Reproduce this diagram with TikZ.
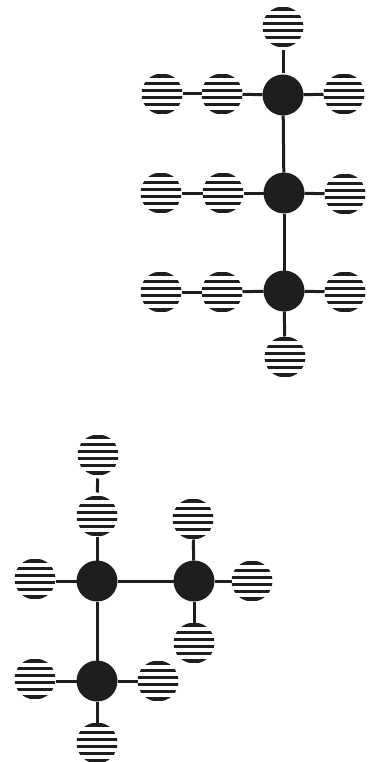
\documentclass[tikz,border=0pt]{standalone}
\definecolor{ink}{HTML}{1E1E1E}
\tikzset{
  hatom/.style={circle,minimum size=41pt,inner sep=0pt,outer sep=0pt,fill=white,
    path picture={
      \foreach \o in {-17.7,-10.6,-3.55,3.55,10.6,17.7}
        \draw[ink,line width=3.7pt] (path picture bounding box.west) ++(-2pt,\o pt) -- ++(45pt,0pt);
    }},
  catom/.style={circle,minimum size=41pt,inner sep=0pt,outer sep=0pt,fill=ink},
  bond/.style={ink,line width=3pt},
  gapbond/.style={bond,shorten <=3pt,shorten >=1pt}
}
\begin{document}
\begin{tikzpicture}[x=1pt,y=-1pt]
\useasboundingbox (0,0) rectangle (373,762);
% upper molecule
\node[catom] (c1) at (283,95) {};
\node[catom] (c2) at (284,193) {};
\node[catom] (c3) at (284,291) {};
\node[hatom] (t) at (283,27) {};
\node[hatom] (a1) at (162,94) {};
\node[hatom] (a2) at (222,94) {};
\node[hatom] (a3) at (344,94) {};
\node[hatom] (b1) at (161,193) {};
\node[hatom] (b2) at (223,193) {};
\node[hatom] (b3) at (345,194) {};
\node[hatom] (d1) at (161,292) {};
\node[hatom] (d2) at (222,292) {};
\node[hatom] (d3) at (345,292) {};
\node[hatom] (e) at (285,357) {};
% lower molecule
\node[catom] (p) at (97,581) {};
\node[catom] (q) at (194,581) {};
\node[catom] (r) at (97,681) {};
\node[hatom] (u1) at (98,455) {};
\node[hatom] (u2) at (97,516) {};
\node[hatom] (u3) at (193,519) {};
\node[hatom] (l1) at (35,579) {};
\node[hatom] (g1) at (252,581) {};
\node[hatom] (g2) at (194,643) {};
\node[hatom] (l2) at (35,679) {};
\node[hatom] (g3) at (158,681) {};
\node[hatom] (g4) at (97,743) {};
% bonds
\draw[gapbond] (t) -- (c1);
\draw[bond] (a1) -- (a2);
\draw[bond] (a2) -- (c1);
\draw[bond] (c1) -- (a3);
\draw[bond] (c1) -- (c2);
\draw[bond] (b1) -- (b2);
\draw[bond] (b2) -- (c2);
\draw[bond] (c2) -- (b3);
\draw[bond] (c2) -- (c3);
\draw[bond] (d1) -- (d2);
\draw[bond] (d2) -- (c3);
\draw[bond] (c3) -- (d3);
\draw[bond] (c3) -- (e);
\draw[bond,shorten <=3pt,shorten >=3pt] (u1) -- (u2);
\draw[bond] (u2) -- (p);
\draw[bond] (u3) -- (q);
\draw[bond] (l1.east |- p) -- (p);
\draw[bond] (p) -- (q);
\draw[bond] (q) -- (g1);
\draw[bond] (q) -- (g2);
\draw[bond] (p) -- (r);
\draw[bond] (l2.east |- r) -- (r);
\draw[bond] (r) -- (g3);
\draw[bond] (r) -- (g4);
\end{tikzpicture}
\end{document}
